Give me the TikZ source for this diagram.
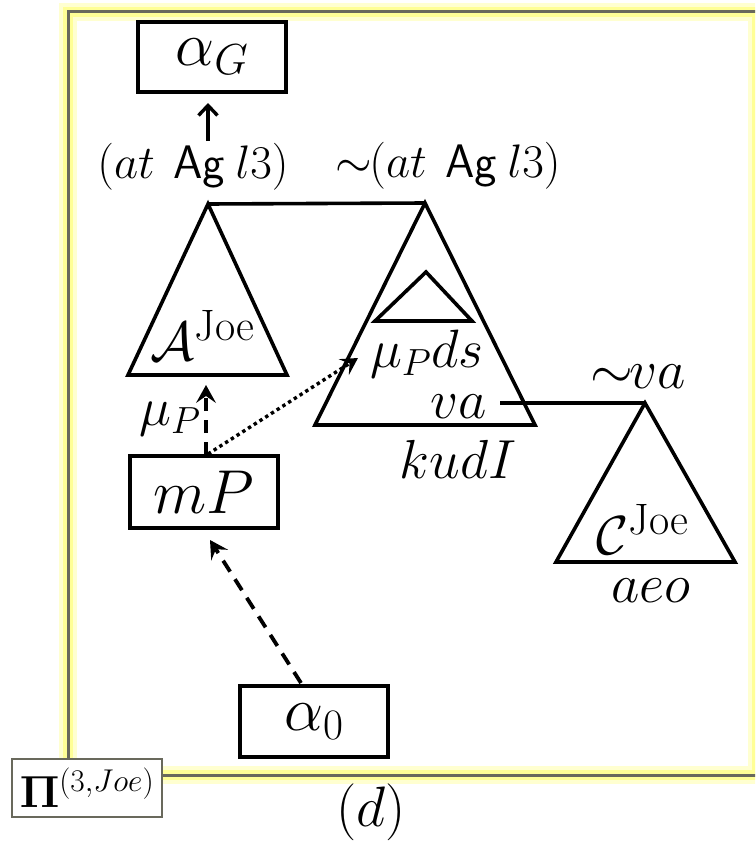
\RequirePackage{fix-cm}
\documentclass[tikz,border=0pt]{standalone}
\usepackage{amsmath}
\usetikzlibrary{arrows.meta}
\definecolor{glow}{RGB}{255,255,150}
\definecolor{framegray}{RGB}{105,105,92}
\newcommand{\joesup}{\mbox{\fontsize{44}{50}\selectfont Joe}}
\begin{document}
\begin{tikzpicture}[x=1pt,y=-1pt,
  box/.style={draw=black,line width=3.6pt,fill=white,minimum width=148pt,minimum height=71pt,inner sep=0pt,font=\fontsize{62}{70}\selectfont},
  lab/.style={inner sep=0pt,anchor=base,font=\fontsize{47}{54}\selectfont},
  mulab/.style={inner sep=0pt,anchor=base,font=\fontsize{54}{60}\selectfont},
  midlab/.style={inner sep=0pt,anchor=base,font=\fontsize{55}{62}\selectfont},
  tri/.style={draw=black,line width=3.6pt,line join=miter},
  link/.style={draw=black,line width=3.6pt},
  solidarrow/.style={line width=3.4pt,-{Straight Barb[length=10pt,width=19pt,line width=3.4pt]}},
  dasharrow/.style={line width=3.8pt,dash pattern=on 13pt off 9pt,-{Stealth[length=18pt,width=20pt,inset=7pt,line width=0pt]}},
  dotarrow/.style={line width=3.4pt,dash pattern=on 3.4pt off 3.4pt,-{Stealth[length=17pt,width=19pt,inset=7pt,line width=0pt]}},
]
\useasboundingbox (0,0) rectangle (755,843);
\fill[white] (0,0) rectangle (755,843);
% frame with glow
\begin{scope}
\clip (0,0) rectangle (755,843);
\draw[line width=18pt, color=glow!45] (68,12) rectangle (757,775);
\draw[line width=10pt, color=glow] (68,12) rectangle (757,775);
\draw[line width=3pt, color=framegray] (780,12) -- (68,12) -- (68,775) -- (780,775);
\end{scope}

% triangles
\coordinate (Atop) at (208,204);
\coordinate (Abl) at (128,375);
\coordinate (Abr) at (287,375);
\coordinate (Btop) at (425,203);
\coordinate (Bbl) at (315,425);
\coordinate (Bbr) at (535,425);
\coordinate (Itop) at (426,272);
\coordinate (Ibl) at (375,321);
\coordinate (Ibr) at (472,321);
\coordinate (Ctop) at (645,403);
\coordinate (Cbl) at (556,562);
\coordinate (Cbr) at (735,562);
\draw[tri] (Atop) -- (Abl) -- (Abr) -- cycle;
\draw[tri] (Btop) -- (Bbl) -- (Bbr) -- cycle;
\draw[tri] (Itop) -- (Ibl) -- (Ibr) -- cycle;
\draw[tri] (Ctop) -- (Cbl) -- (Cbr) -- cycle;
\draw[link] (Atop) -- (Btop);
\coordinate (vaS) at (500,403);
\draw[link] (vaS) -- (Ctop);

% boxes
\node[box,minimum height=70pt] (aG) at (212,57) {$\alpha_G$};
\node[box,minimum height=72pt] (mP) at (204,492) {$mP$};
\node[box] (a0) at (314,721.5) {$\alpha_0$};
\node[draw=framegray,line width=1.2pt,fill=white,minimum width=150pt,minimum height=58pt,inner sep=0pt,font=\fontsize{45}{50}\selectfont] (Pi) at (87,788) {$\mathbf{\Pi}^{(3,Joe)}$};

% labels
\node[lab] (l1) at (193,178) {$(at\mskip7mu\mathsf{Ag}\mskip4mu l3)$};
\node[lab] (l2) at (448,177) {$\sim\!\!(at\mskip7mu\mathsf{Ag}\mskip4mu l3)$};
\node[mulab] (muP) at (170,425) {$\mu_P$};
\node[mulab] (mupds) at (427,367) {$\mu_P ds$};
\node[midlab] (va) at (459,418) {$va$};
\node[midlab] (kudI) at (458,478) {$kudI$};
\node[midlab] (nva) at (638,388) {$\sim\!\!va$};
\node[midlab] (aeo) at (651,602) {$aeo$};
\node[midlab] (AJ) at (203,360) {$\mathcal{A}^{\joesup}$};
\node[midlab] (CJ) at (643,554) {$\mathcal{C}^{\joesup}$};
\node[midlab,font=\fontsize{57}{64}\selectfont] (d) at (371,826) {$(d)$};

% arrows
\coordinate (l1top) at (208,141);
\coordinate (aGin) at (208,103);
\draw[solidarrow] (l1top) -- (aGin);
\coordinate (mPtopA) at (206,455);
\coordinate (Ain) at (206,385);
\draw[dasharrow] (mPtopA) -- (Ain);
\coordinate (mPtopB) at (208,454);
\coordinate (Bin) at (358,358);
\draw[dotarrow] (mPtopB) -- (Bin);
\coordinate (a0top) at (301,683);
\coordinate (mPin) at (210,540);
\draw[dasharrow] (a0top) -- (mPin);
\end{tikzpicture}
\end{document}
